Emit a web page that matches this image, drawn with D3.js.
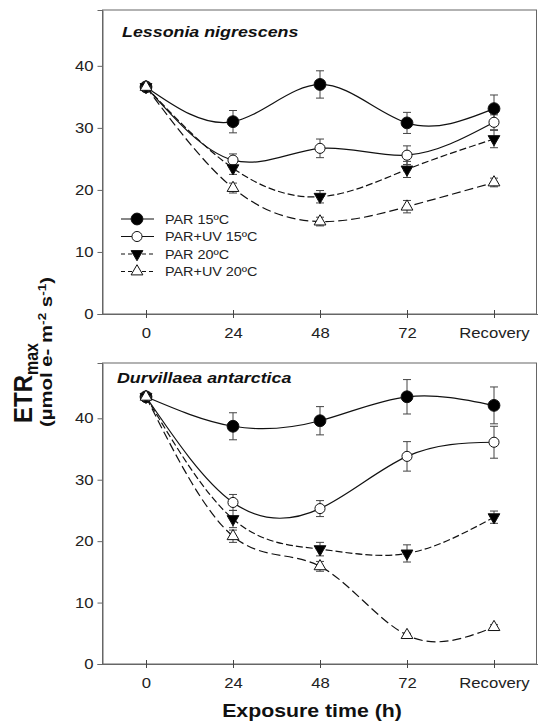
<!DOCTYPE html>
<html>
<head>
<meta charset="utf-8">
<script src="https://cdnjs.cloudflare.com/ajax/libs/d3/7.8.5/d3.min.js"></script>
<style>
  body { margin: 0; background: #fff; }
  svg { display: block; font-family: "Liberation Sans", Arial, sans-serif; }
</style>
</head>
<body>
<svg id="chart" width="538" height="724"></svg>
<script>
// categories on the x axis
const categories = ["0", "24", "48", "72", "Recovery"];
const seriesNames = ["PAR 15ºC", "PAR+UV 15ºC", "PAR 20ºC", "PAR+UV 20ºC"];
const yTicks = [0, 10, 20, 30, 40];

// Lessonia nigrescens (means and SE)
const lesPar15 = [36.6, 31.0, 37.0, 30.8, 33.1];
const lesPar15Err = [0.5, 1.8, 2.2, 1.7, 2.2];
const lesUv15 = [36.6, 24.8, 26.7, 25.6, 30.9];
const lesUv15Err = [0.4, 1.0, 1.5, 1.5, 1.2];
const lesPar20 = [36.6, 23.5, 18.9, 23.3, 28.2];
const lesPar20Err = [0.4, 1.0, 1.0, 1.3, 1.4];
const lesUv20 = [36.6, 20.3, 14.9, 17.3, 21.2];
const lesUv20Err = [0.4, 0.8, 0.7, 1.0, 0.7];

// Durvillaea antarctica
const durPar15 = [43.5, 38.7, 39.6, 43.5, 42.1];
const durPar15Err = [0.5, 2.2, 2.3, 2.8, 3.0];
const durUv15 = [43.5, 26.3, 25.3, 33.8, 36.1];
const durUv15Err = [0.5, 1.3, 1.3, 2.4, 2.6];
const durPar20 = [43.5, 23.6, 18.7, 18.0, 23.9];
const durPar20Err = [0.5, 1.4, 1.1, 1.4, 1.0];
const durUv20 = [43.5, 20.8, 15.9, 4.7, 6.0];
const durUv20Err = [0.5, 1.0, 0.8, 0.3, 0.4];

const styles = [
  {dash: null, symbol: d3.symbolCircle, size: 110, fill: "#000", rot: 0},
  {dash: null, symbol: d3.symbolCircle, size: 80, fill: "#fff", rot: 0},
  {dash: "7,3", symbol: d3.symbolTriangle, size: 60, fill: "#000", rot: 180},
  {dash: "9,4", symbol: d3.symbolTriangle, size: 60, fill: "#fff", rot: 0}
];

const svg = d3.select("#chart");

function drawPanel(top, bottom, title, titlePos, means, errs, legend) {
  let x = d3.scaleLinear().domain([-0.5, 4.5]).range([102.5, 537.5]);
  let y = d3.scaleLinear().domain([0, 49]).range([bottom, top]);
  let g = svg.append("g");

  // frame
  g.append("rect")
    .attr("x", x(-0.5)).attr("y", y(49))
    .attr("width", x(4.5) - x(-0.5) - 1).attr("height", y(0) - y(49))
    .attr("fill", "none").attr("stroke", "#666").attr("stroke-width", 1);

  // y axis
  let yAxis = d3.axisLeft(y).tickValues(yTicks).tickSize(5).tickPadding(4);
  let gy = g.append("g").attr("transform", "translate(" + x(-0.5) + ",0)").call(yAxis);
  gy.select(".domain").attr("stroke", "#666");
  gy.selectAll("line").attr("stroke", "#666");
  gy.selectAll("text").attr("font-size", "14.5px").attr("fill", "#222").classed("stretch", true)
    .attr("font-family", "Liberation Sans, Arial, sans-serif");

  // x axis, ticks crossing the axis line
  let xAxis = d3.axisBottom(x).tickValues([0, 1, 2, 3, 4])
    .tickFormat(function(i) { return categories[i]; })
    .tickSizeInner(4).tickSizeOuter(0).tickPadding(10);
  let gx = g.append("g").attr("transform", "translate(0," + y(0) + ")").call(xAxis);
  gx.select(".domain").attr("stroke", "#666");
  gx.selectAll(".tick line").attr("y1", -4).attr("stroke", "#444");
  gx.selectAll("text").attr("font-size", "14.5px").attr("fill", "#222").classed("stretch", true)
    .attr("font-family", "Liberation Sans, Arial, sans-serif");

  g.append("text")
    .attr("class", "stretch")
    .attr("x", titlePos[0]).attr("y", titlePos[1])
    .attr("font-size", "15.5px").attr("font-weight", "bold").attr("font-style", "italic")
    .attr("fill", "#111")
    .text(title);

  let line = d3.line()
    .x(function(d, i) { return x(i); })
    .y(function(d) { return y(d); })
    .curve(d3.curveNatural);

  // lines
  means.forEach(function(m, s) {
    g.append("path")
      .attr("d", line(m))
      .attr("fill", "none").attr("stroke", "#111").attr("stroke-width", 1.2)
      .attr("stroke-dasharray", styles[s].dash);
  });

  // error bars
  means.forEach(function(m, s) {
    m.forEach(function(v, i) {
      if (i == 0) return;
      let e = errs[s][i];
      let eg = g.append("g").attr("stroke", "#444").attr("stroke-width", 1);
      eg.append("line").attr("x1", x(i)).attr("x2", x(i)).attr("y1", y(v - e)).attr("y2", y(v + e));
      eg.append("line").attr("x1", x(i) - 4).attr("x2", x(i) + 4).attr("y1", y(v - e)).attr("y2", y(v - e));
      eg.append("line").attr("x1", x(i) - 4).attr("x2", x(i) + 4).attr("y1", y(v + e)).attr("y2", y(v + e));
    });
  });

  // markers
  means.forEach(function(m, s) {
    let st = styles[s];
    g.selectAll(".mk" + s)
      .data(m)
      .enter()
      .append("path")
      .attr("class", "mk" + s)
      .attr("d", d3.symbol().type(st.symbol).size(st.size))
      .attr("transform", function(d, i) {
        return "translate(" + x(i) + "," + y(d) + ") rotate(" + st.rot + ")";
      })
      .attr("fill", st.fill).attr("stroke", "#111").attr("stroke-width", 1);
  });

  if (legend) {
    let rowY = [219, 236.5, 254, 271.5];
    seriesNames.forEach(function(name, s) {
      let st = styles[s];
      let lg = g.append("g");
      lg.append("line").attr("x1", 121).attr("x2", 154).attr("y1", rowY[s]).attr("y2", rowY[s])
        .attr("stroke", "#111").attr("stroke-width", 1.2)
        .attr("stroke-dasharray", st.dash ? "4,3" : null);
      lg.append("path")
        .attr("d", d3.symbol().type(st.symbol).size(st.size))
        .attr("transform", "translate(137," + rowY[s] + ") rotate(" + st.rot + ")")
        .attr("fill", st.fill).attr("stroke", "#111").attr("stroke-width", 1);
      lg.append("text").attr("x", 165).attr("y", rowY[s] + 4.5)
        .attr("class", "stretch")
        .attr("font-size", "12.5px").attr("fill", "#222")
        .text(name);
    });
  }
}

drawPanel(10, 314, "Lessonia nigrescens", [122, 37],
  [lesPar15, lesUv15, lesPar20, lesUv20],
  [lesPar15Err, lesUv15Err, lesPar20Err, lesUv20Err], true);

drawPanel(363, 664, "Durvillaea antarctica", [117, 383],
  [durPar15, durUv15, durPar20, durUv20],
  [durPar15Err, durUv15Err, durPar20Err, durUv20Err], false);

// y axis title
let yt = svg.append("text")
  .attr("transform", "translate(32,383) scale(1.1,1) rotate(-90)")
  .attr("text-anchor", "middle")
  .attr("font-weight", "bold").attr("font-size", "24px").attr("fill", "#111");
yt.append("tspan").text("ETR");
yt.append("tspan").attr("font-size", "16px").attr("dy", 5).text("max");

let yt2 = svg.append("text")
  .attr("transform", "translate(52,352) rotate(-90)")
  .attr("text-anchor", "middle")
  .attr("textLength", 150).attr("lengthAdjust", "spacingAndGlyphs")
  .attr("font-weight", "bold").attr("font-size", "16.5px").attr("fill", "#111");
yt2.append("tspan").text("(µmol e- m");
yt2.append("tspan").attr("font-size", "11px").attr("dy", -6).text("-2");
yt2.append("tspan").attr("dy", 6).text(" s");
yt2.append("tspan").attr("font-size", "11px").attr("dy", -6).text("-1");
yt2.append("tspan").attr("dy", 6).text(")");

// x axis title
svg.append("text")
  .attr("class", "stretch")
  .attr("x", 312).attr("y", 717)
  .attr("text-anchor", "middle")
  .attr("font-weight", "bold").attr("font-size", "18.5px").attr("fill", "#111")
  .text("Exposure time (h)");

// the original figure is a little wider than tall, widen the horizontal texts to match
svg.selectAll("text.stretch").each(function() {
  let w = this.getComputedTextLength();
  d3.select(this).attr("textLength", w * 1.15).attr("lengthAdjust", "spacingAndGlyphs");
});
</script>
</body>
</html>
